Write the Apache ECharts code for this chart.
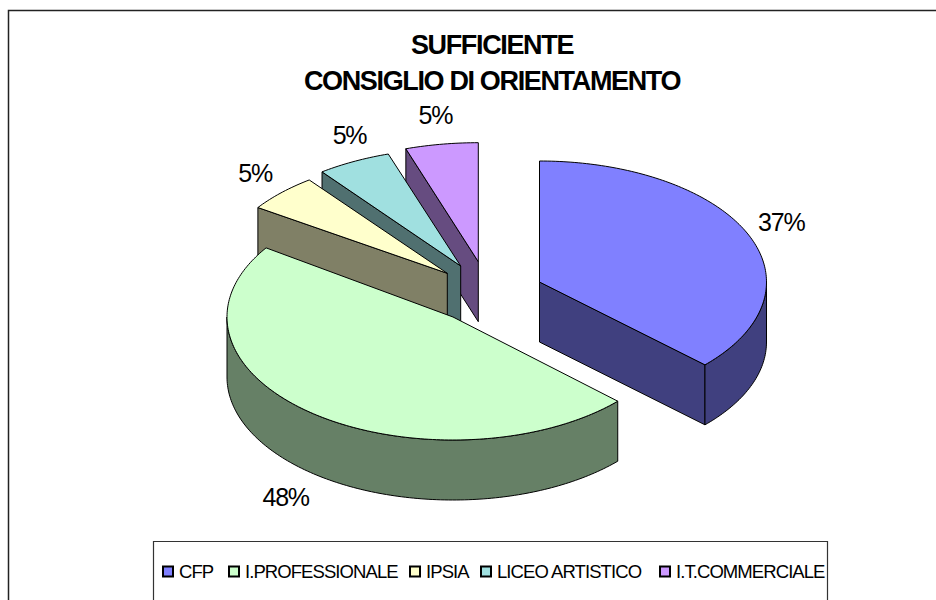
<!DOCTYPE html>
<html>
<head>
<meta charset="utf-8">
<style>
html,body{margin:0;padding:0;background:#fff;overflow:hidden}
#c{width:936px;height:600px}
text{letter-spacing:-0.05em}
</style>
<script src="https://cdn.jsdelivr.net/npm/echarts@6/dist/echarts.min.js"></script>
</head>
<body>
<div id="c"></div>
<script>
var categories = ['CFP','I.PROFESSIONALE','IPSIA','LICEO ARTISTICO','I.T.COMMERCIALE'];
var values = [37, 47.5, 5.2, 5.2, 5.1];
var titleLines = ['SUFFICIENTE','CONSIGLIO DI ORIENTAMENTO'];

var topColors  = ['#8080FF','#CCFFCC','#FFFFCC','#A0E0E0','#CC99FF'];
var sideColors = ['#40407F','#668066','#808066','#507070','#664C80'];
var paintOrder = [4,5,3,2,1];
var legendLeft = [162,228,409,480,659];

// exploded pie layout (slice apex and ellipse radii)
var apexX = [539.5,453,447.3,460.7,478.3];
var apexY = [282,317,273.3,266,261.7];
var radX  = [227,226,229,230,230];
var radY  = [121,123,117,118,119];
var depth = 60;
var labelK = [1.17,1.25];
var labelNudgeX = [-2,-2,2,14,0];

var total = values.reduce(function(a,b){return a+b;},0);
function startAngle(i){
  var s=0; for(var k=0;k<i;k++) s+=values[k];
  return s/total*360;
}
function rim(i,deg,dy){
  var r=deg*Math.PI/180;
  return [apexX[i]+radX[i]*Math.sin(r), apexY[i]-radY[i]*Math.cos(r)+(dy||0)];
}
function arc(i,a0,a1,dy){
  var pts=[], n=Math.max(2,Math.ceil(Math.abs(a1-a0)));
  for(var k=0;k<=n;k++) pts.push(rim(i,a0+(a1-a0)*k/n,dy));
  return pts;
}
function poly(points,fill,z2){
  return {type:'polygon',z2:z2,shape:{points:points},
    style:{fill:fill,stroke:'#000',lineWidth:1,lineJoin:'round'}};
}
function cutFace(i,a,fill,z2){
  var p=rim(i,a);
  return poly([[apexX[i],apexY[i]],p,[p[0],p[1]+depth],[apexX[i],apexY[i]+depth]],fill,z2);
}
function renderSlice(params,api){
  var i=params.seriesIndex;
  var a0=startAngle(i), a1=a0+api.value(0)/total*360;
  var kids=[];
  var s=Math.sin(a0*Math.PI/180), e=Math.sin(a1*Math.PI/180);
  if(s<-1e-6) kids.push(cutFace(i,a0,sideColors[i],1));
  if(e>1e-6) kids.push(cutFace(i,a1,sideColors[i],1));
  var w0=Math.max(a0,90), w1=Math.min(a1,270);
  if(w1>w0){
    kids.push(poly(arc(i,w0,w1,0).concat(arc(i,w1,w0,depth)),sideColors[i],1));
  }
  kids.push(poly([[apexX[i],apexY[i]]].concat(arc(i,a0,a1,0)),topColors[i],2));
  var mid=(a0+a1)/2*Math.PI/180;
  var lx=apexX[i]+radX[i]*labelK[0]*Math.sin(mid)+labelNudgeX[i];
  var ly=apexY[i]-radY[i]*labelK[1]*Math.cos(mid)+(Math.cos(mid)<0?depth:0);
  kids.push({type:'text',z2:3,style:{x:lx,y:ly,text:Math.round(api.value(0)/total*100)+'%',
    fill:'#000',font:'25px "Liberation Sans"',align:'center',verticalAlign:'middle'}});
  return {type:'group',children:kids};
}

var chart=echarts.init(document.getElementById('c'),null,{renderer:'svg',width:936,height:600});
chart.setOption({
  animation:false,
  backgroundColor:'#fff',
  title:{
    text:titleLines.join('\n'),left:487,top:22,textAlign:'center',
    textStyle:{fontFamily:'Liberation Sans',fontWeight:'bold',fontSize:27,lineHeight:36,color:'#000'}
  },
  legend:categories.map(function(name,i){
    return {data:[name],left:legendLeft[i],top:562,padding:0,icon:'rect',itemWidth:10,itemHeight:10,
      selectedMode:false,
      textStyle:{fontFamily:'Liberation Sans',fontSize:18.5,color:'#000',padding:[0,0,0,1]}};
  }),
  graphic:[
    {type:'rect',silent:true,z:-1,shape:{x:8.5,y:10.5,width:960,height:620},
      style:{fill:'none',stroke:'#222',lineWidth:1.5}},
    {type:'rect',silent:true,z:-1,shape:{x:153.5,y:541.5,width:674,height:80},
      style:{fill:'#fff',stroke:'#333',lineWidth:1.2}}
  ],
  series:categories.map(function(name,i){
    return {type:'custom',name:name,coordinateSystem:'none',renderItem:renderSlice,z:paintOrder[i],
      silent:true,
      itemStyle:{color:topColors[i],borderColor:'#000',borderWidth:1},
      data:[[values[i]]]};
  })
});
</script>
</body>
</html>
